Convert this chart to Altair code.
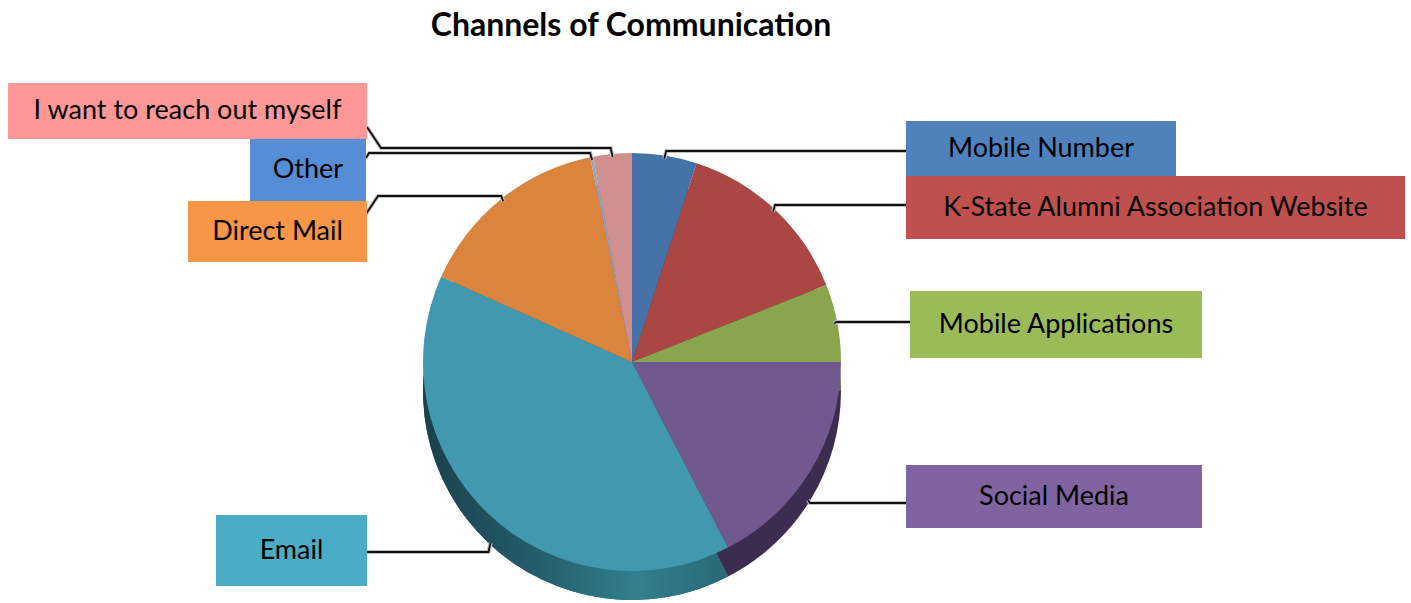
import math
import altair as alt
import pandas as pd

# ---------------- data ----------------
categories = ["Mobile Number", "K-State Alumni Association Website", "Mobile Applications",
              "Social Media", "Email", "Direct Mail", "Other", "I want to reach out myself"]
shares = [5.0, 14.0, 6.0, 17.4, 39.3, 15.1, 0.2, 3.0]
title_text = "Channels of Communication"

# ---------------- styles ----------------
top_colors = ["#4572A7", "#AA4643", "#89A54E", "#71588F", "#4198AF", "#DB843D", "#8EA5CB", "#D09090"]
side_colors = ["#2B4A6E", "#6E2C2A", "#5A6E32", "#3C2D50", "#24596A", "#8E5526", "#5D6C86", "#875E5E"]
box_colors = ["#4F81BD", "#C0504D", "#9BBB59", "#8064A2", "#4BACC6", "#F79646", "#558ED5", "#FF9797"]

# ---------------- layout (pixels) ----------------
W, H = 1411, 603
CX, CY, R, DEPTH = 632, 362, 209, 29
box_x0 = [906, 906, 910, 906, 216, 188, 250, 8]
box_x1 = [1176, 1405, 1202, 1202, 367, 367, 366, 367]
box_y0 = [121, 176, 291, 465, 515, 201, 139, 83]
box_y1 = [176, 239, 358, 528, 586, 262, 201, 139]
line_y = [151, 205, 322, 503, 552, 196, 153, 148]      # horizontal leader segment
line_xend = [906, 906, 910, 906, 366, 378, 369, 381]   # end of horizontal segment
line_tail = [None, None, None, None, None, (366, 214), (366, 158), (367, 127)]

total = sum(shares)
pie_df = pd.DataFrame({"name": categories, "share": shares, "idx": list(range(len(categories)))})

# leader line anchors derived from the slice mid-angles
rows = []
cum = 0.0
for i, (name, s) in enumerate(zip(categories, shares)):
    mid = (cum + s / 2) / total * 2 * math.pi
    cum += s
    ax = CX + (R - 3) * math.sin(mid)
    ay = CY - (R - 3) * math.cos(mid)
    if math.pi / 2 < mid < 3 * math.pi / 2:
        ay += DEPTH + 2
    side = 1 if ax > CX else -1
    pts = [(ax, ay), (ax + side * 2, line_y[i]), (line_xend[i], line_y[i])]
    if line_tail[i] is not None:
        pts.append(line_tail[i])
    for k, (px, py) in enumerate(pts):
        rows.append({"name": name, "k": k, "px": px, "py": py})
lines_df = pd.DataFrame(rows)

box_df = pd.DataFrame({"name": categories, "x0": box_x0, "x1": box_x1, "y0": box_y0, "y1": box_y1})
title_df = pd.DataFrame({"t": [title_text]})

xs = alt.Scale(domain=[0, W], range=[0, W])
ys = alt.Scale(domain=[0, H], range=[0, H])
NOAX = None

theta_scale = alt.Scale(domain=[0, total], range=[0, 2 * math.pi])

pie_base = alt.Chart(pie_df).transform_window(
    cum="sum(share)", sort=[alt.SortField("idx", order="ascending")], frame=[None, 0]
).transform_calculate(t0="datum.cum - datum.share")

side = pie_base.mark_arc(radius=R, stroke=None).encode(
    theta=alt.Theta("t0:Q", scale=theta_scale),
    theta2="cum:Q",
    color=alt.Color("name:N", scale=alt.Scale(domain=categories, range=side_colors), legend=None),
    x=alt.value(CX), y=alt.value(CY + DEPTH),
)

email_grad = alt.Gradient(
    gradient="linear", x1=0, y1=0, x2=1, y2=0,
    stops=[alt.GradientStop(color="#1A414C", offset=0),
           alt.GradientStop(color="#235B68", offset=0.35),
           alt.GradientStop(color="#32808F", offset=0.7),
           alt.GradientStop(color="#2A6876", offset=1)],
)
side_email = pie_base.transform_filter(alt.datum.name == "Email").mark_arc(
    radius=R, color=email_grad
).encode(
    theta=alt.Theta("t0:Q", scale=theta_scale),
    theta2="cum:Q",
    x=alt.value(CX), y=alt.value(CY + DEPTH),
)

top = pie_base.mark_arc(radius=R, stroke=None).encode(
    theta=alt.Theta("t0:Q", scale=theta_scale),
    theta2="cum:Q",
    color=alt.Color("name:N", scale=alt.Scale(domain=categories, range=top_colors), legend=None),
    x=alt.value(CX), y=alt.value(CY),
)

line_halo = alt.Chart(lines_df).mark_line(color="#c0c0c0", strokeWidth=4, strokeJoin="miter").encode(
    x=alt.X("px:Q", scale=xs, axis=NOAX),
    y=alt.Y("py:Q", scale=ys, axis=NOAX),
    detail="name:N", order="k:Q",
)
line_main = alt.Chart(lines_df).mark_line(color="#111111", strokeWidth=1.8, strokeJoin="miter").encode(
    x=alt.X("px:Q", scale=xs, axis=NOAX),
    y=alt.Y("py:Q", scale=ys, axis=NOAX),
    detail="name:N", order="k:Q",
)

box_shadow = alt.Chart(box_df).mark_rect(color="#d6d6d6", xOffset=2, yOffset=3).encode(
    x=alt.X("x0:Q", scale=xs, axis=NOAX), x2="x1:Q",
    y=alt.Y("y0:Q", scale=ys, axis=NOAX), y2="y1:Q",
)
boxes = alt.Chart(box_df).mark_rect().encode(
    x=alt.X("x0:Q", scale=xs, axis=NOAX), x2="x1:Q",
    y=alt.Y("y0:Q", scale=ys, axis=NOAX), y2="y1:Q",
    color=alt.Color("name:N", scale=alt.Scale(domain=categories, range=box_colors), legend=None),
)
labels = alt.Chart(box_df).transform_calculate(
    mx="(datum.x0 + datum.x1) / 2", my="(datum.y0 + datum.y1) / 2"
).mark_text(font="Lato", fontSize=27, color="#000000", align="center", baseline="middle").encode(
    x=alt.X("mx:Q", scale=xs, axis=NOAX),
    y=alt.Y("my:Q", scale=ys, axis=NOAX),
    text="name:N",
)

title = alt.Chart(title_df).mark_text(
    font="Lato", fontSize=32, fontWeight="bold", color="#000000", align="center", baseline="middle"
).encode(x=alt.value(631), y=alt.value(26), text="t:N")

chart = alt.layer(
    side, side_email, top, line_halo, line_main, box_shadow, boxes, labels, title
).resolve_scale(color="independent").properties(
    width=W, height=H, padding=0, autosize=alt.AutoSizeParams(type="none"),
    background="white",
).configure_view(stroke=None)

chart.save("out.html", embed_options={"renderer": "svg", "actions": False})
